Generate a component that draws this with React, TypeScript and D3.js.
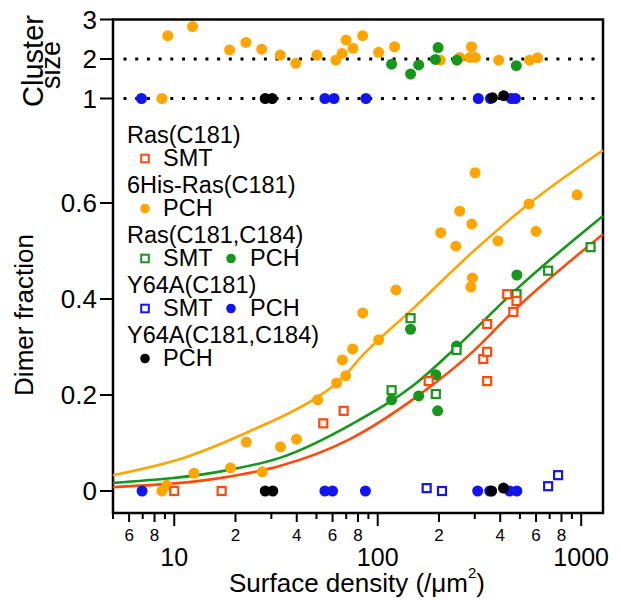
import React from "react";
import * as d3 from "d3";

const FONT = "'Liberation Sans', Arial, Helvetica, sans-serif";

type P = [number, number];

// ---- Top panel: cluster size (density, size)
const clusterOrange: P[] = [
  [8.7, 1.0], [9.3, 2.59], [12.3, 2.82], [18.7, 2.23], [22.5, 2.42], [26.9, 2.25],
  [33.2, 2.1], [39.6, 1.89], [50.3, 2.1], [62.3, 1.97], [66.8, 2.14], [69.9, 2.48],
  [75.6, 2.27], [84.3, 2.59], [101, 2.17], [121, 2.31], [203, 1.97], [253, 2.04],
  [284, 2.04], [289, 2.31], [302, 2.04], [393, 1.97], [558, 1.97], [610, 2.03],
];
const clusterGreen: P[] = [
  [117, 1.87], [145, 1.62], [159, 1.85], [192, 1.99], [198, 2.29], [245, 1.97], [480, 1.83],
];
const clusterBlue: P[] = [
  [6.9, 1], [55, 1], [61, 1], [87.5, 1], [312, 1], [358, 1], [454, 1], [475, 1],
];
const clusterBlack: P[] = [
  [28, 1], [30.3, 1], [366, 1.02], [416, 1.07],
];

// ---- Lower panel: dimer fraction (density, fraction)
const pchOrange: P[] = [
  [8.7, 0.0], [9.2, 0.012], [12.5, 0.037], [18.9, 0.048], [22.6, 0.102], [27.1, 0.04],
  [33.3, 0.092], [39.9, 0.108], [50.7, 0.19], [62.8, 0.225], [67, 0.273], [69.6, 0.24],
  [75.3, 0.296], [84.4, 0.371], [101, 0.315], [123, 0.419], [204, 0.538], [242, 0.51],
  [253, 0.583], [287, 0.425], [290, 0.556], [292, 0.444], [301, 0.663], [390, 0.521],
  [554, 0.598], [600, 0.541], [955, 0.617],
];
const smtRed: P[] = [
  [10, 0], [17.1, 0], [54, 0.141], [68, 0.167], [178, 0.229], [330, 0.275], [345, 0.29],
  [345, 0.229], [345, 0.348], [433, 0.41], [464, 0.373], [481, 0.396],
];
const smtGreen: P[] = [
  [117, 0.21], [145, 0.36], [193, 0.202], [244, 0.294], [481, 0.41], [688, 0.459], [1112, 0.508],
];
const pchGreen: P[] = [
  [117, 0.19], [145, 0.337], [159, 0.198], [193, 0.242], [197, 0.167], [244, 0.302], [483, 0.45],
];
const pchBlue: P[] = [
  [6.95, 0], [55, 0], [60, 0], [87, 0], [310, 0], [355, 0], [445, 0], [483, 0],
];
const smtBlue: P[] = [
  [174, 0.006], [207, 0], [688, 0.01], [770, 0.033],
];
const pchBlack: P[] = [
  [28, 0], [30.5, 0], [363, 0], [415, 0.006],
];

// ---- Fit curves
const fitOrange: P[] = [
  [5, 0.033], [11.5, 0.071], [24.2, 0.127], [48, 0.19], [66, 0.232], [84, 0.282], [150, 0.381],
  [300, 0.502], [560, 0.6], [1280, 0.71],
];
const fitGreen: P[] = [
  [5, 0.017], [18.6, 0.044], [33, 0.069], [75, 0.14], [155, 0.225], [244, 0.3], [480, 0.42], [1280, 0.573],
];
const fitRed: P[] = [
  [5, 0.008], [18.6, 0.03], [33, 0.052], [73, 0.108], [155, 0.196], [300, 0.294], [460, 0.373], [1280, 0.535],
];

// ---- Axis ticks
const xMajorTicks = [10, 100, 1000];
const xMinorTicks = [5, 6, 7, 8, 9, 20, 30, 40, 50, 60, 70, 80, 90, 200, 300, 400, 500, 600, 700, 800, 900];
const xMinorLabels = [6, 8, 20, 40, 60, 80, 200, 400, 600, 800];
const yLowerTicks = [0, 0.2, 0.4, 0.6];
const yTopTicks = [1, 2, 3];

// ---- Legend
const legendGroups = [
  { title: "Ras(C181)", items: [{ kind: "sq", color: "red", label: "SMT" }] },
  { title: "6His-Ras(C181)", items: [{ kind: "ci", color: "orange", label: "PCH" }] },
  { title: "Ras(C181,C184)", items: [{ kind: "sq", color: "green", label: "SMT" }, { kind: "ci", color: "green", label: "PCH" }] },
  { title: "Y64A(C181)", items: [{ kind: "sq", color: "blue", label: "SMT" }, { kind: "ci", color: "blue", label: "PCH" }] },
  { title: "Y64A(C181,C184)", items: [{ kind: "ci", color: "black", label: "PCH" }] },
];

const COLORS: Record<string, string> = {
  orange: "#FFA500",
  green: "#16961A",
  red: "#FF4A0A",
  blue: "#1414F0",
  black: "#000000",
};

export default function App() {
  const W = 621, H = 600;
  const left = 113, right = 603, top = 19.5, bottom = 513;

  const x = d3.scaleLog().domain([5, 1280]).range([left, right]);
  const y = d3.scaleLinear().domain([0, 0.6]).range([491, 203]);
  const yt = d3.scaleLinear().domain([1, 3]).range([98.5, 19.5]);

  const line = d3
    .line<P>()
    .x((d) => x(d[0]))
    .y((d) => y(d[1]))
    .curve(d3.curveMonotoneX);

  const R = 5.5;
  const SQ = 8;

  const circles = (data: P[], color: string, ys: (v: number) => number, key: string) =>
    data.map((d, i) => (
      <circle key={key + i} cx={x(d[0])} cy={ys(d[1])} r={R} fill={COLORS[color]} />
    ));
  const squares = (data: P[], color: string, key: string) =>
    data.map((d, i) => (
      <rect
        key={key + i}
        x={x(d[0]) - SQ / 2}
        y={y(d[1]) - SQ / 2}
        width={SQ}
        height={SQ}
        fill="white"
        stroke={COLORS[color]}
        strokeWidth={2.2}
      />
    ));

  const legendX = 127;
  const legendTop = 143;

  return (
    <svg width={W} height={H} style={{ position: "absolute", left: 0, top: 0, background: "white" }} fontFamily={FONT}>
      <rect x={0} y={0} width={W} height={H} fill="white" />

      {/* dotted reference lines in top panel */}
      {yTopTicks.slice(0, 2).map((v) => (
        <line
          key={"dot" + v}
          x1={123.5}
          x2={598}
          y1={yt(v)}
          y2={yt(v)}
          stroke="#000"
          strokeWidth={3}
          strokeDasharray="3 8.7"
        />
      ))}

      {/* frame */}
      <path
        d={`M${left},${top} H${right} V${bottom} H${left} Z`}
        fill="none"
        stroke="#000"
        strokeWidth={2.5}
      />

      {/* left ticks: top panel */}
      {yTopTicks.map((v) => (
        <g key={"yt" + v}>
          <line x1={100} x2={left} y1={yt(v)} y2={yt(v)} stroke="#000" strokeWidth={2} />
          <text x={97} y={yt(v)} dy="0.36em" textAnchor="end" fontSize={26}>
            {v}
          </text>
        </g>
      ))}
      {/* left ticks: lower panel */}
      {yLowerTicks.map((v) => (
        <g key={"yl" + v}>
          <line x1={100} x2={left} y1={y(v)} y2={y(v)} stroke="#000" strokeWidth={2} />
          <text x={97} y={y(v)} dy="0.36em" textAnchor="end" fontSize={26}>
            {v === 0 ? "0" : v.toFixed(1)}
          </text>
        </g>
      ))}

      {/* bottom ticks */}
      {xMinorTicks.map((v) => {
        const labeled = xMinorLabels.includes(v);
        const lead = String(v)[0];
        return (
          <g key={"xm" + v}>
            <line x1={x(v)} x2={x(v)} y1={bottom} y2={bottom + (labeled ? 9 : 6)} stroke="#000" strokeWidth={2} />
            {labeled && (
              <text x={x(v)} y={541} textAnchor="middle" fontSize={17}>
                {lead}
              </text>
            )}
          </g>
        );
      })}
      {xMajorTicks.map((v) => (
        <g key={"xM" + v}>
          <line x1={x(v)} x2={x(v)} y1={bottom} y2={bottom + 13} stroke="#000" strokeWidth={2} />
          <text x={x(v)} y={566} textAnchor="middle" fontSize={25}>
            {v}
          </text>
        </g>
      ))}

      {/* axis titles */}
      <text x={357} y={592} textAnchor="middle" fontSize={26}>
        Surface density (/μm
        <tspan fontSize={15} dy={-14}>2</tspan>
        <tspan dy={14}>)</tspan>
      </text>
      <text transform="translate(33,315) rotate(-90)" textAnchor="middle" fontSize={26}>
        Dimer fraction
      </text>
      <text transform="translate(43,61) rotate(-90)" textAnchor="middle" fontSize={29}>
        Cluster
      </text>
      <text transform="translate(60,65) rotate(-90)" textAnchor="middle" fontSize={27}>
        size
      </text>

      {/* fit curves */}
      <path d={line(fitOrange) || ""} fill="none" stroke={COLORS.orange} strokeWidth={2.6} />
      <path d={line(fitGreen) || ""} fill="none" stroke={COLORS.green} strokeWidth={2.6} />
      <path d={line(fitRed) || ""} fill="none" stroke={COLORS.red} strokeWidth={2.6} />

      {/* top panel points */}
      {circles(clusterOrange, "orange", yt, "co")}
      {circles(clusterGreen, "green", yt, "cg")}
      {circles(clusterBlue, "blue", yt, "cb")}
      {circles(clusterBlack, "black", yt, "ck")}

      {/* lower panel points */}
      {circles(pchOrange, "orange", y, "po")}
      {circles(pchGreen, "green", y, "pg")}
      {squares(smtGreen, "green", "sg")}
      {squares(smtRed, "red", "sr")}
      {circles(pchBlue, "blue", y, "pb")}
      {squares(smtBlue, "blue", "sb")}
      {circles(pchBlack, "black", y, "pk")}

      {/* legend */}
      {legendGroups.map((g, gi) => {
        const by = legendTop + gi * 50;
        return (
          <g key={"lg" + gi}>
            <text x={legendX} y={by} fontSize={23.5}>
              {g.title}
            </text>
            {g.items.map((it, ii) => {
              const mx = ii === 0 ? 145 : 231;
              const tx = ii === 0 ? 163 : 250;
              const ry = by + 23;
              const my = ry - 7.5;
              return (
                <g key={"li" + ii}>
                  {it.kind === "sq" ? (
                    <rect x={mx - 3.8} y={my - 3.8} width={7.6} height={7.6} fill="white" stroke={COLORS[it.color]} strokeWidth={2} />
                  ) : (
                    <circle cx={mx} cy={my} r={4.8} fill={COLORS[it.color]} />
                  )}
                  <text x={tx} y={ry} fontSize={23.5}>
                    {it.label}
                  </text>
                </g>
              );
            })}
          </g>
        );
      })}
    </svg>
  );
}
